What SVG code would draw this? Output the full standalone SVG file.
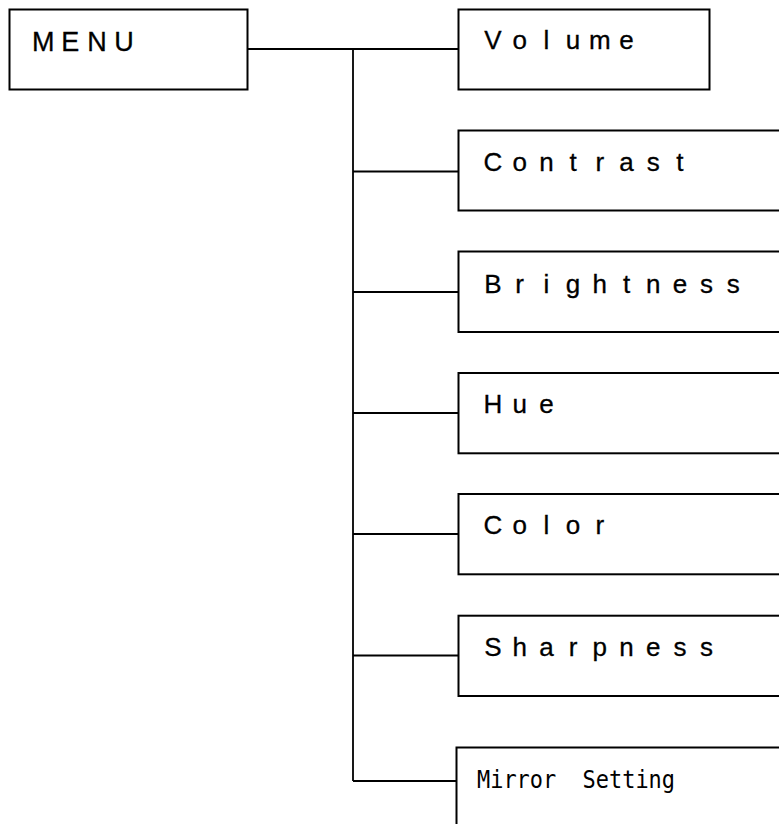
<svg xmlns="http://www.w3.org/2000/svg" width="779" height="824" viewBox="0 0 779 824">
<style>
.box{fill:#fff;stroke:#000;stroke-width:2}
.ln{fill:none;stroke:#000;stroke-width:1.8}
.lb{font-family:"Liberation Sans",Arial,sans-serif;font-size:26px;fill:#000;stroke:#000;stroke-width:0.3;text-anchor:middle}
.mn{font-family:"Liberation Sans",Arial,sans-serif;font-size:27px;fill:#000;stroke:#000;stroke-width:0.3;text-anchor:middle}
.mr{font-family:"DejaVu Sans Mono","Liberation Mono",monospace;font-size:25px;fill:#000}
</style>
<rect width="779" height="824" fill="#fff"/>
<g id="connectors">
<path class="ln" d="M247.5 49H458M353 49V781M353 171.5H458M353 292H458M353 413H458M353 534H458M353 655.5H458M353 781H456.5"/>
</g>
<g id="menu">
<rect class="box" x="9.5" y="9.5" width="238" height="80"/>
<text class="mn" x="43.3 70.2 97.1 124" y="50.5">MENU</text>
</g>
<g id="volume">
<rect class="box" x="458.5" y="9.5" width="251" height="80"/>
<text class="lb" x="493 519.7 546.4 573.1 599.8 626.5" y="49">Volume</text>
</g>
<g id="contrast">
<rect class="box" x="458.5" y="130.5" width="340" height="80"/>
<text class="lb" x="493 519.7 546.4 573.1 599.8 626.5 653.2 679.9" y="171">Contrast</text>
</g>
<g id="brightness">
<rect class="box" x="458.5" y="251.5" width="340" height="80.5"/>
<text class="lb" x="493 519.7 546.4 573.1 599.8 626.5 653.2 679.9 706.6 733.3" y="292.5">Brightness</text>
</g>
<g id="hue">
<rect class="box" x="458.5" y="373" width="340" height="80.3"/>
<text class="lb" x="493 519.7 546.4" y="413.3">Hue</text>
</g>
<g id="color">
<rect class="box" x="458.5" y="494" width="340" height="80.3"/>
<text class="lb" x="493 519.7 546.4 573.1 599.8" y="534.3">Color</text>
</g>
<g id="sharpness">
<rect class="box" x="458.5" y="615.7" width="340" height="80.3"/>
<text class="lb" x="493 519.7 546.4 573.1 599.8 626.5 653.2 679.9 706.6" y="656">Sharpness</text>
</g>
<g id="mirror">
<rect class="box" x="456.5" y="747.5" width="340" height="90"/>
<text class="mr" x="477" y="788.3" textLength="198" lengthAdjust="spacingAndGlyphs" xml:space="preserve">Mirror  Setting</text>
</g>
</svg>
